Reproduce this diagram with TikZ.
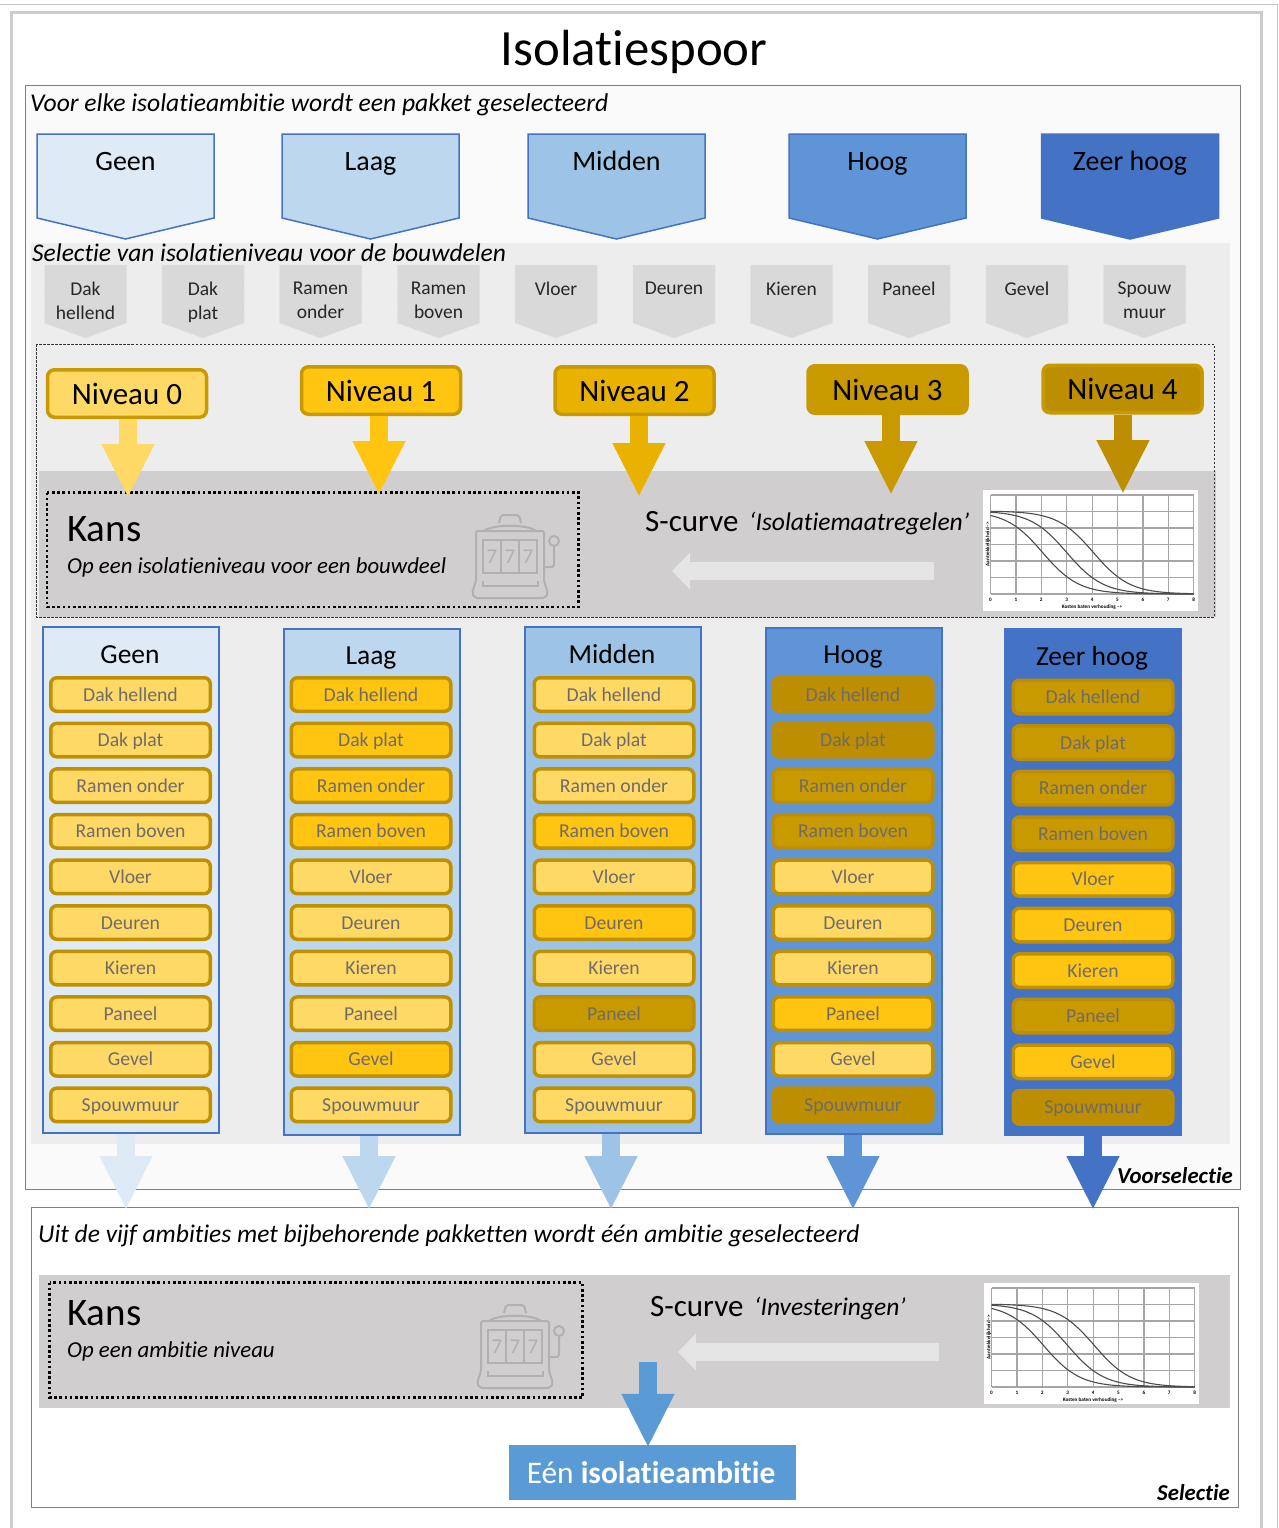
\documentclass[tikz,border=0pt]{standalone}
\usepackage{fontspec}
\setmainfont{Carlito}[Ligatures=NoCommon]
\usepackage{xcolor}
\usepackage{tikz}
\usetikzlibrary{arrows.meta}
\definecolor{amb0}{HTML}{DEEAF6}
\definecolor{amb1}{HTML}{BDD7EE}
\definecolor{amb2}{HTML}{9DC3E6}
\definecolor{amb3}{HTML}{5F95D7}
\definecolor{amb4}{HTML}{4472C4}
\definecolor{blauw}{HTML}{5B9BD5}
\definecolor{goud0}{HTML}{FFD966}
\definecolor{goud1}{HTML}{FFC510}
\definecolor{goud2}{HTML}{E9B200}
\definecolor{goud3}{HTML}{C99A00}
\definecolor{goud4}{HTML}{BC8E00}
\definecolor{rand}{HTML}{BF9000}
\definecolor{vlak}{HTML}{EDEDED}
\definecolor{donker}{HTML}{D0CECE}
\definecolor{icoon}{HTML}{B2B0B0}
\definecolor{grijstekst}{HTML}{6F6B6B}
\tikzstyle{tekst}=[anchor=base west, inner sep=0pt, text=black]
\tikzstyle{kop} = [anchor=base, text=black, inner sep=0pt, font=\fontsize{28}{30}\selectfont]
\tikzstyle{ambitie} = [draw=amb4, line width=1.5pt, line join=miter]
\tikzstyle{bouwdeel} = [draw=gray!25, fill=gray!30, dotted, line width=1pt]
\tikzstyle{deeltekst} = [anchor=north, inner sep=0pt, align=center, text=black!85,
  font=\fontsize{19.5}{24}\selectfont]
\tikzstyle{niveau} = [draw=goud3, line width=3.5pt, rounded corners=7pt, text=black,
  minimum width=159pt, minimum height=47.5pt, font=\fontsize{31}{32}\selectfont]
\tikzstyle{kolom} = [draw=amb4, line width=2pt, minimum width=176pt, minimum height=506pt]
\tikzstyle{item} = [draw=rand, line width=3.5pt, rounded corners=6pt, text=grijstekst,
  minimum width=159.5pt, minimum height=33.5pt, inner sep=0pt, text height=15pt, text depth=2pt,
  font=\fontsize{19.7}{22}\selectfont]
\tikzstyle{n0} = [item, fill=goud0]
\tikzstyle{n1} = [item, fill=goud1]
\tikzstyle{n3} = [item, fill=goud3, draw=goud4!90!goud3]
\tikzstyle{n4} = [item, fill=goud4, draw=goud4]
\tikzstyle{line} = [draw, line width=18pt, shorten >=-3pt, -{Triangle[width=49pt,length=54pt]}]
\tikzstyle{terug} = [draw=black!10, line width=18pt, -{Triangle[width=36pt,length=18pt]}]
\tikzstyle{stippel} = [draw=black, line width=2.6pt, dash pattern=on 2.6pt off 2.6pt]
\tikzstyle{raster} = [draw=gray!70, line width=1.2pt]
\tikzstyle{curve} = [draw=black!70, line width=1.1pt]
\tikzstyle{schaal} = [inner sep=0pt, font=\bfseries\fontsize{5.2}{6}\selectfont]
\newcommand{\onderdeel}[3]{node (#1) [#2] {#3}}
\newcommand{\ambitiepijl}[4]{%
  \path[ambitie, fill=#3] (#2,134) +(-88.5,0) -- +(88.5,0) -- +(88.5,84) -- +(0,105)
    -- +(-88.5,84) -- cycle;
  \path (#2,170) node (#1)[kop] {#4};}
\newcommand{\deel}[3]{%
  \path[bouwdeel] (#2,265) +(-41,0) -- +(41,0) -- +(41,58) -- +(0,73) -- +(-41,58) -- cycle;
  \path (#2,281.5) node (#1)[deeltekst] {#3};}
% Chart with the three curves, #1 is the top-left corner of the white area
\newcommand{\scurve}[2]{%
  \begin{scope}[shift={(#1,#2)}]
    \path[fill=white] (0,0) rectangle (215,121);
    \foreach \i in {0,...,8} {
      \path[raster] ({7.5+25.4*\i},5) -- ({7.5+25.4*\i},104);
      \path ({7.5+25.4*\i},110) node[schaal] {\i};
    }
    \foreach \j in {0,...,6} \path[raster] (7.5,{5+16.5*\j}) -- (210.7,{5+16.5*\j});
    \foreach \m in {2.05,3.0,4.05}
      \path[curve] plot[domain=0:8,samples=50,smooth]
        ({7.5+25.4*\x},{104-83/(1+exp(1.4*(\x-\m)))});
    \path (109,117) node[schaal] {Kosten baten verhouding -->};
    \path (5,54) node[schaal, rotate=90] {Aantrekkelijkheid -->};
  \end{scope}}
% Slot machine icon, #1 is the top-left corner
\newcommand{\gokkast}[2]{%
  \begin{scope}[shift={(#1,#2)}, draw=icoon, line width=2pt]
    \path[draw, rounded corners=2pt] (4,16) -- (4,66) -- (0,78) -- (3,83) -- (73,83) -- (76,78)
      -- (72,66) -- (72,16) -- cycle;
    \path[draw] (12,16) .. controls (20,9) and (56,9) .. (64,16);
    \path[draw, rounded corners=2pt] (27,8) -- (29,0) -- (47,0) -- (49,8);
    \path[draw] (11,25) rectangle (65,58);
    \path[draw] (29,25) -- (29,58) (47,25) -- (47,58);
    \path[draw] (11,66) -- (11,71) -- (66,71) -- (66,66);
    \path[draw] (82,26) circle (5pt);
    \path[draw] (82,31) -- (82,50) .. controls (82,52) and (80,52) .. (78,52) -- (72,52);
    \path (20,41.5) node[text=icoon, inner sep=0pt, font=\fontsize{21}{22}\selectfont] {7};
    \path (38,41.5) node[text=icoon, inner sep=0pt, font=\fontsize{21}{22}\selectfont] {7};
    \path (56,41.5) node[text=icoon, inner sep=0pt, font=\fontsize{21}{22}\selectfont] {7};
  \end{scope}}

\begin{document}
\begin{tikzpicture}[x=1pt,y=-1pt]
\path[use as bounding box, fill=white] (0,0) rectangle (1278,1528);

  % Outer frames
\path[draw=gray!45, line width=1pt] (0,4.5) -- (1277,4.5) -- (1277,1528);
\path[draw=gray!40, line width=3pt] (11.5,1528) -- (11.5,13) -- (1261,13) -- (1261,1528);
\path (634,66) node (titel)[anchor=base, inner sep=0pt, font=\fontsize{50.8}{52}\selectfont] {Isolatiespoor};

  % Voorselectie
\path[draw=gray, line width=1pt, fill=black!2] (25,85) rectangle (1240,1189);
\path[fill=vlak] (31,243) rectangle (1230,1144);
\path[fill=donker] (39,471) rectangle (1216,617);
\path[draw=black!80, line width=0.8pt, dash pattern=on 2.5pt off 1.5pt] (36,344) rectangle (1214,617);
\path (30,111) node (voor)[tekst, font=\itshape\fontsize{25.6}{27}\selectfont]
  {Voor elke isolatieambitie wordt een pakket geselecteerd};
\path (32,261) node (selectie)[tekst, font=\itshape\fontsize{25.5}{27}\selectfont]
  {Selectie van isolatieniveau voor de bouwdelen};

\ambitiepijl{a0}{125.5}{amb0}{Geen}
\ambitiepijl{a1}{370.5}{amb1}{Laag}
\ambitiepijl{a2}{616.5}{amb2}{Midden}
\ambitiepijl{a3}{877.5}{amb3}{Hoog}
\ambitiepijl{a4}{1130}{amb4}{Zeer hoog}

\deel{d1}{85.5}{Dak\\hellend}
\deel{d2}{203}{Dak\\plat}
\deel{d3}{320.5}{Ramen\\onder}
\deel{d4}{438.5}{Ramen\\boven}
\deel{d5}{556}{Vloer}
\deel{d6}{674}{Deuren}
\deel{d7}{791.5}{Kieren}
\deel{d8}{909}{Paneel}
\deel{d9}{1027}{Gevel}
\deel{d10}{1144.5}{Spouw\\muur}

\path (127,393.5) node (lv0)[niveau, fill=goud0] {Niveau 0};
\path (381,390.5) node (lv1)[niveau, fill=goud1] {Niveau 1};
\path (634.5,390.5) node (lv2)[niveau, fill=goud2] {Niveau 2};
\path (887.5,389.5) node (lv3)[niveau, fill=goud3] {Niveau 3};
\path (1122.5,389) node (lv4)[niveau, fill=goud4] {Niveau 4};

\path (67,541) node (kans1)[tekst, font=\fontsize{39}{40}\selectfont] {Kans};
\path (67,573) node (op1)[tekst, font=\itshape\fontsize{22.8}{25}\selectfont]
  {Op een isolatieniveau voor een bouwdeel};
\path[stippel] (47,492.5) rectangle (578.5,607);
\gokkast{472}{515}
\path (645,531) node (s1)[tekst, font=\fontsize{31}{32}\selectfont] {S-curve};
\path (749,530) node (mt1)[tekst, font=\itshape\fontsize{25.5}{27}\selectfont] {‘Isolatiemaatregelen’};
\scurve{983}{490}
\path (934,571) coordinate (b1);
\path (672,571) coordinate (e1);
\path[terug] (b1) -- (e1);

\path (128,495) coordinate (t0);
\path (379,492) coordinate (t1);
\path (639,494) coordinate (t2);
\path (891,492) coordinate (t3);
\path (1123,491) coordinate (t4);
\path [line, color=goud0] (t0 |- lv0.south) -- (t0);
\path [line, color=goud1] (t1 |- lv1.south) -- (t1);
\path [line, color=goud2] (t2 |- lv2.south) -- (t2);
\path [line, color=goud3] (t3 |- lv3.south) -- (t3);
\path [line, color=goud4] (t4 |- lv4.south) -- (t4);

  % Pakketten
\path (130.5,879.5) node (k0)[kolom, fill=amb0] {};
\path (371.5,881.5) node (k1)[kolom, fill=amb1] {};
\path (612.5,879.5) node (k2)[kolom, fill=amb2] {};
\path (853.5,880.5) node (k3)[kolom, fill=amb3] {};
\path (1093,881.5) node (k4)[kolom, fill=amb4, draw=amb4] {};
\path (130,663) node (kt0)[kop, font=\fontsize{27.5}{30}\selectfont] {Geen};
\path (371,664) node (kt1)[kop, font=\fontsize{27.5}{30}\selectfont] {Laag};
\path (612,663) node (kt2)[kop, font=\fontsize{27.5}{30}\selectfont] {Midden};
\path (853,663) node (kt3)[kop, font=\fontsize{27.5}{30}\selectfont] {Hoog};
\path (1092,665) node (kt4)[kop, font=\fontsize{27.5}{30}\selectfont] {Zeer hoog};

\path (130.5,694.5) \onderdeel{g1}{n0}{Dak hellend};
\path (g1)+(0,45.6) \onderdeel{g2}{n0}{Dak plat};
\path (g2)+(0,45.6) \onderdeel{g3}{n0}{Ramen onder};
\path (g3)+(0,45.6) \onderdeel{g4}{n0}{Ramen boven};
\path (g4)+(0,45.6) \onderdeel{g5}{n0}{Vloer};
\path (g5)+(0,45.6) \onderdeel{g6}{n0}{Deuren};
\path (g6)+(0,45.6) \onderdeel{g7}{n0}{Kieren};
\path (g7)+(0,45.6) \onderdeel{g8}{n0}{Paneel};
\path (g8)+(0,45.6) \onderdeel{g9}{n0}{Gevel};
\path (g9)+(0,45.6) \onderdeel{g10}{n0}{Spouwmuur};

\path (371,694.5) \onderdeel{l1}{n1}{Dak hellend};
\path (l1)+(0,45.6) \onderdeel{l2}{n1}{Dak plat};
\path (l2)+(0,45.6) \onderdeel{l3}{n1}{Ramen onder};
\path (l3)+(0,45.6) \onderdeel{l4}{n1}{Ramen boven};
\path (l4)+(0,45.6) \onderdeel{l5}{n0}{Vloer};
\path (l5)+(0,45.6) \onderdeel{l6}{n0}{Deuren};
\path (l6)+(0,45.6) \onderdeel{l7}{n0}{Kieren};
\path (l7)+(0,45.6) \onderdeel{l8}{n0}{Paneel};
\path (l8)+(0,45.6) \onderdeel{l9}{n1}{Gevel};
\path (l9)+(0,45.6) \onderdeel{l10}{n0}{Spouwmuur};

\path (614,694.5) \onderdeel{m1}{n0}{Dak hellend};
\path (m1)+(0,45.6) \onderdeel{m2}{n0}{Dak plat};
\path (m2)+(0,45.6) \onderdeel{m3}{n0}{Ramen onder};
\path (m3)+(0,45.6) \onderdeel{m4}{n1}{Ramen boven};
\path (m4)+(0,45.6) \onderdeel{m5}{n0}{Vloer};
\path (m5)+(0,45.6) \onderdeel{m6}{n1}{Deuren};
\path (m6)+(0,45.6) \onderdeel{m7}{n0}{Kieren};
\path (m7)+(0,45.6) \onderdeel{m8}{n3}{Paneel};
\path (m8)+(0,45.6) \onderdeel{m9}{n0}{Gevel};
\path (m9)+(0,45.6) \onderdeel{m10}{n0}{Spouwmuur};

\path (853,694.5) \onderdeel{h1}{n4}{Dak hellend};
\path (h1)+(0,45.6) \onderdeel{h2}{n4}{Dak plat};
\path (h2)+(0,45.6) \onderdeel{h3}{n3}{Ramen onder};
\path (h3)+(0,45.6) \onderdeel{h4}{n3}{Ramen boven};
\path (h4)+(0,45.6) \onderdeel{h5}{n0}{Vloer};
\path (h5)+(0,45.6) \onderdeel{h6}{n0}{Deuren};
\path (h6)+(0,45.6) \onderdeel{h7}{n0}{Kieren};
\path (h7)+(0,45.6) \onderdeel{h8}{n1}{Paneel};
\path (h8)+(0,45.6) \onderdeel{h9}{n0}{Gevel};
\path (h9)+(0,45.6) \onderdeel{h10}{n4}{Spouwmuur};

\path (1093,697) \onderdeel{z1}{n3}{Dak hellend};
\path (z1)+(0,45.6) \onderdeel{z2}{n3}{Dak plat};
\path (z2)+(0,45.6) \onderdeel{z3}{n3}{Ramen onder};
\path (z3)+(0,45.6) \onderdeel{z4}{n3}{Ramen boven};
\path (z4)+(0,45.6) \onderdeel{z5}{n1}{Vloer};
\path (z5)+(0,45.6) \onderdeel{z6}{n1}{Deuren};
\path (z6)+(0,45.6) \onderdeel{z7}{n1}{Kieren};
\path (z7)+(0,45.6) \onderdeel{z8}{n3}{Paneel};
\path (z8)+(0,45.6) \onderdeel{z9}{n1}{Gevel};
\path (z9)+(0,45.6) \onderdeel{z10}{n4}{Spouwmuur};

\path (1117,1183) node (voorsel)[tekst, font=\bfseries\itshape\fontsize{22.8}{24}\selectfont] {Voorselectie};

  % Selectie
\path[draw=gray, line width=1pt, fill=white] (31,1207) rectangle (1238,1507);
\path (38,1242) node (uit)[tekst, font=\itshape\fontsize{25.5}{27}\selectfont]
  {Uit de vijf ambities met bijbehorende pakketten wordt één ambitie geselecteerd};
\path[fill=donker] (39,1275) rectangle (1230,1408);
\path (67,1325) node (kans2)[tekst, font=\fontsize{39}{40}\selectfont] {Kans};
\path (67,1357) node (op2)[tekst, font=\itshape\fontsize{22.8}{25}\selectfont] {Op een ambitie niveau};
\path[stippel] (49.5,1282.5) rectangle (582.5,1397.5);
\gokkast{477}{1305}
\path (650,1316) node (s2)[tekst, font=\fontsize{31}{32}\selectfont] {S-curve};
\path (754,1315) node (mt2)[tekst, font=\itshape\fontsize{25.5}{27}\selectfont] {‘Investeringen’};
\scurve{984}{1283}
\path (939,1352) coordinate (b2);
\path (678,1352) coordinate (e2);
\path[terug] (b2) -- (e2);
\path (1157,1500) node (sel)[tekst, font=\bfseries\itshape\fontsize{22.8}{24}\selectfont] {Selectie};

  % Arrows between the two parts
\path (126,1207) coordinate (u0);
\path (369,1207) coordinate (u1);
\path (611,1207) coordinate (u2);
\path (853,1207) coordinate (u3);
\path (1093,1207) coordinate (u4);
\path [line, color=amb0] (u0 |- k0.south) -- (u0);
\path [line, color=amb1] (u1 |- k1.south) -- (u1);
\path [line, color=amb2] (u2 |- k2.south) -- (u2);
\path [line, color=amb3] (u3 |- k3.south) -- (u3);
\path [line, color=amb4] (u4 |- k4.south) -- (u4);

\path (652.5,1472.5) node (een)[fill=blauw, inner sep=0pt, minimum width=287pt,
  minimum height=55pt, text=white, font=\fontsize{31.4}{34}\selectfont] {\hspace*{-3pt}Eén \textbf{isolatieambitie}};
\path (648,1362) coordinate (v5);
\path [line, color=blauw] (v5) -- (v5 |- een.north);
\end{tikzpicture}
\end{document}
